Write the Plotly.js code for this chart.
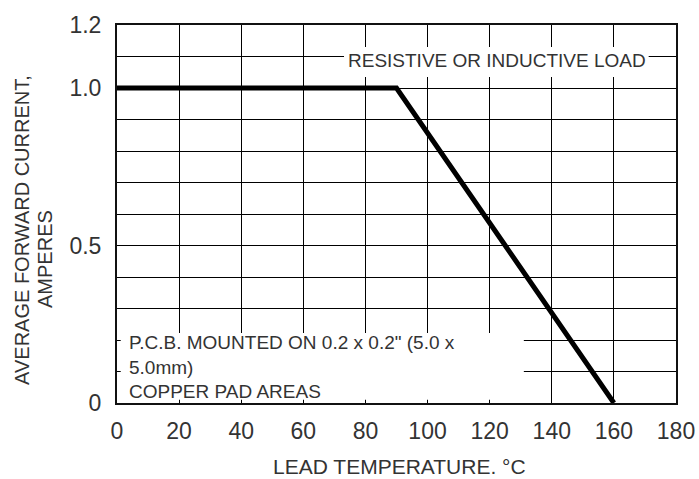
<!DOCTYPE html>
<html>
<head>
<meta charset="utf-8">
<script src="https://cdn.plot.ly/plotly-3.0.1.min.js"></script>
<style>html,body{margin:0;padding:0;background:#fff;}#chart{width:699px;height:479px;}</style>
</head>
<body>
<div id="chart"></div>
<script>
// Data
const leadTemp = [0, 90, 160];
const avgCurrent = [1.0, 1.0, 0];
const yTickVals = [0, 0.5, 1.0, 1.2];
const yTickText = ['0', '0.5', '1.0', '1.2'];
const xTickVals = [0, 20, 40, 60, 80, 100, 120, 140, 160, 180];
const xTickText = ['0', '20', '40', '60', '80', '100', '120', '140', '160', '180'];
const loadLabel = 'RESISTIVE OR INDUCTIVE LOAD';
const pcbLabel = 'P.C.B. MOUNTED ON 0.2 x 0.2" (5.0 x<br>5.0mm)<br>COPPER PAD AREAS';
const xTitle = 'LEAD TEMPERATURE. °C';
const yTitle1 = 'AVERAGE FORWARD CURRENT,';
const yTitle2 = 'AMPERES';

const font = 'Liberation Sans, Arial, sans-serif';
const txt = '#333';

const trace = {
  x: leadTemp, y: avgCurrent, type: 'scatter', mode: 'lines',
  line: {color: '#000', width: 5}, hoverinfo: 'skip', showlegend: false
};

const layout = {
  width: 699, height: 479,
  margin: {l: 117, r: 23, t: 25, b: 76, pad: 0},
  paper_bgcolor: '#fff', plot_bgcolor: '#fff',
  font: {family: font, color: txt},
  showlegend: false,
  xaxis: {
    range: [0, 180], tickvals: xTickVals, ticktext: xTickText,
    showgrid: true, gridcolor: '#000', gridwidth: 1,
    zeroline: false, showline: true, mirror: true, linecolor: '#111', linewidth: 2,
    ticks: '', ticklabelstandoff: 6,
    tickfont: {size: 23, color: txt, family: font}
  },
  yaxis: {
    range: [0, 1.2], tickvals: yTickVals, ticktext: yTickText,
    showgrid: true, gridcolor: '#000', gridwidth: 1,
    minor: {dtick: 0.1, tick0: 0, showgrid: true, gridcolor: '#000', gridwidth: 1, ticks: ''},
    zeroline: false, showline: true, mirror: true, linecolor: '#111', linewidth: 2,
    ticks: '', ticklabelstandoff: 9,
    tickfont: {size: 23, color: txt, family: font}
  },
  shapes: [
    {type: 'rect', xref: 'x', yref: 'y', x0: 73.1, x1: 171.2, y0: 1.035, y1: 1.13,
     fillcolor: '#fff', line: {width: 0}, layer: 'above'},
    {type: 'rect', xref: 'x', yref: 'y', x0: 1.2, x1: 131, y0: 0.01, y1: 0.222,
     fillcolor: '#fff', line: {width: 0}, layer: 'above'}
  ],
  annotations: [
    {text: loadLabel, xref: 'x', yref: 'y', x: 122.2, y: 1.087, xanchor: 'center', yanchor: 'middle',
     showarrow: false, font: {size: 19, color: txt, family: font}},
    {text: pcbLabel, xref: 'x', yref: 'y', x: 3.2, y: 0.114, xanchor: 'left', yanchor: 'middle',
     align: 'left', showarrow: false, font: {size: 19, color: txt, family: font}},
    {text: xTitle, xref: 'paper', yref: 'paper', x: 0.505, y: -0.169, xanchor: 'center', yanchor: 'middle',
     borderpad: 0, showarrow: false, font: {size: 21, color: txt, family: font}},
    {text: yTitle1, xref: 'paper', yref: 'paper', x: 0, y: 0.458, xshift: -95, xanchor: 'center', yanchor: 'middle',
     textangle: -90, showarrow: false, font: {size: 20, color: txt, family: font}},
    {text: yTitle2, xref: 'paper', yref: 'paper', x: 0, y: 0.381, xshift: -72, xanchor: 'center', yanchor: 'middle',
     textangle: -90, showarrow: false, font: {size: 20, color: txt, family: font}}
  ]
};

Plotly.newPlot('chart', [trace], layout, {displayModeBar: false, staticPlot: true});
</script>
</body>
</html>
